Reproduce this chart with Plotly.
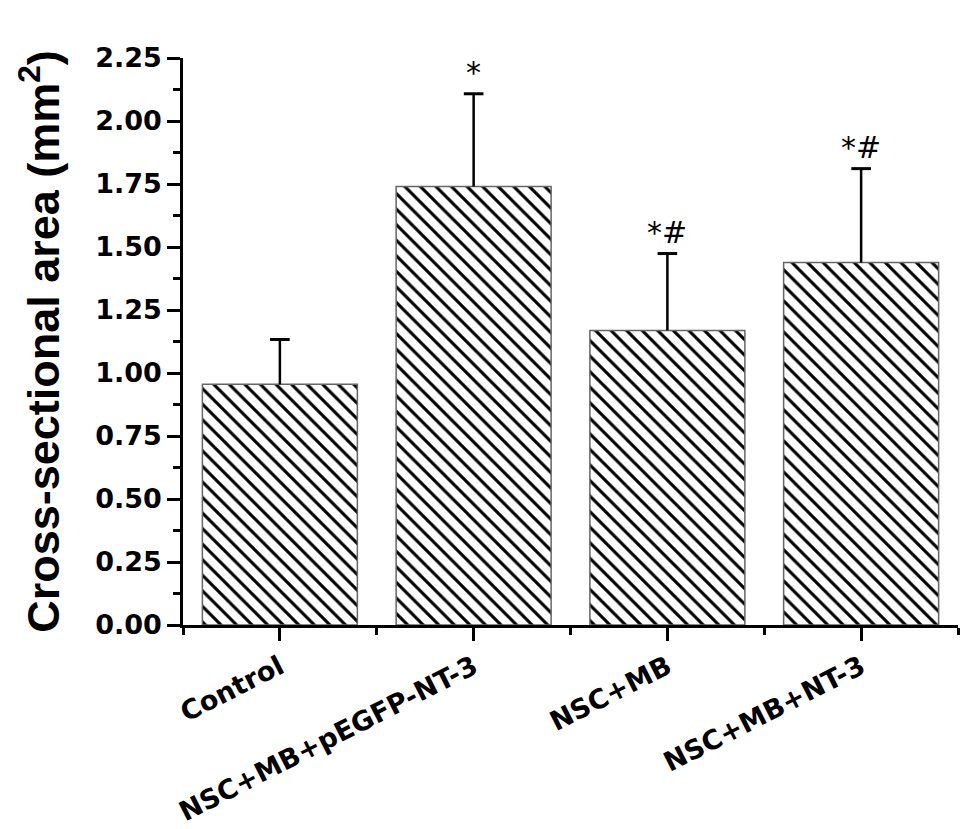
import plotly.graph_objects as go

categories = ["Control", "NSC+MB+pEGFP-NT-3", "NSC+MB", "NSC+MB+NT-3"]
means = [0.955, 1.740, 1.169, 1.438]
sds = [0.178, 0.368, 0.305, 0.373]
marks = ["", "*", "*#", "*#"]
y_ticks = [0, 0.25, 0.5, 0.75, 1.0, 1.25, 1.5, 1.75, 2.0, 2.25]

xpos = list(range(len(categories)))
FONT = "DejaVu Sans"

fig = go.Figure()
fig.add_trace(go.Bar(
    x=xpos, y=means, width=0.8,
    marker=dict(color="white", line=dict(color="#666666", width=1.5),
                pattern=dict(shape="\\", size=11, solidity=0.28, fgopacity=1,
                             fgcolor="black", bgcolor="white", fillmode="overlay")),
    showlegend=False, hoverinfo="skip",
))

# error bar stems (upper only)
sx, sy = [], []
for i, (m, s) in enumerate(zip(means, sds)):
    sx += [i, i, None]
    sy += [m, m + s, None]
fig.add_trace(go.Scatter(x=sx, y=sy, mode="lines",
                         line=dict(color="black", width=2.5),
                         showlegend=False, hoverinfo="skip"))
fig.add_trace(go.Scatter(x=xpos, y=[m + s for m, s in zip(means, sds)], mode="markers",
                         marker=dict(symbol="line-ew", size=14,
                                     line=dict(color="black", width=3)),
                         showlegend=False, hoverinfo="skip"))

for i, (m, s, t) in enumerate(zip(means, sds, marks)):
    if t:
        fig.add_annotation(x=i, y=m + s, text=t, showarrow=False,
                           yanchor="bottom", yshift=2,
                           font=dict(family=FONT, size=30, color="black"))

# page body has an 8px margin: figure is 960x821 so it ends at the window edge
fig.update_layout(
    width=960, height=821,
    margin=dict(l=175, r=10, t=50, b=204),
    plot_bgcolor="white", paper_bgcolor="white",
    xaxis=dict(
        range=[-0.5, 3.5], tickmode="array", tickvals=xpos, ticktext=categories,
        tickangle=-27, ticks="outside", ticklen=13, tickwidth=2.5, tickcolor="black",
        showline=True, linecolor="black", linewidth=2.5, showgrid=False, zeroline=False,
        automargin=False,
        tickfont=dict(family=FONT, size=27, color="black", weight="bold"),
        minor=dict(tickmode="linear", tick0=-0.5, dtick=1, ticks="outside",
                   ticklen=7, tickwidth=2.5, tickcolor="black", showgrid=False),
    ),
    yaxis=dict(
        range=[0, 2.25], tickmode="array", tickvals=y_ticks,
        ticktext=[f"{v:.2f}" for v in y_ticks],
        ticks="outside", ticklen=13, tickwidth=2.5, tickcolor="black",
        showline=True, linecolor="black", linewidth=2.5, showgrid=False, zeroline=False,
        automargin=False,
        tickfont=dict(family=FONT, size=27, color="black", weight="bold"),
        minor=dict(tickmode="linear", tick0=0.125, dtick=0.25, ticks="outside",
                   ticklen=7, tickwidth=2.5, tickcolor="black", showgrid=False),
        title=dict(text="Cross-sectional area (mm<sup>2</sup>)", standoff=22,
                   font=dict(family="Liberation Sans", size=45, color="black",
                             weight="bold")),
    ),
)

fig.write_html("out.html")
